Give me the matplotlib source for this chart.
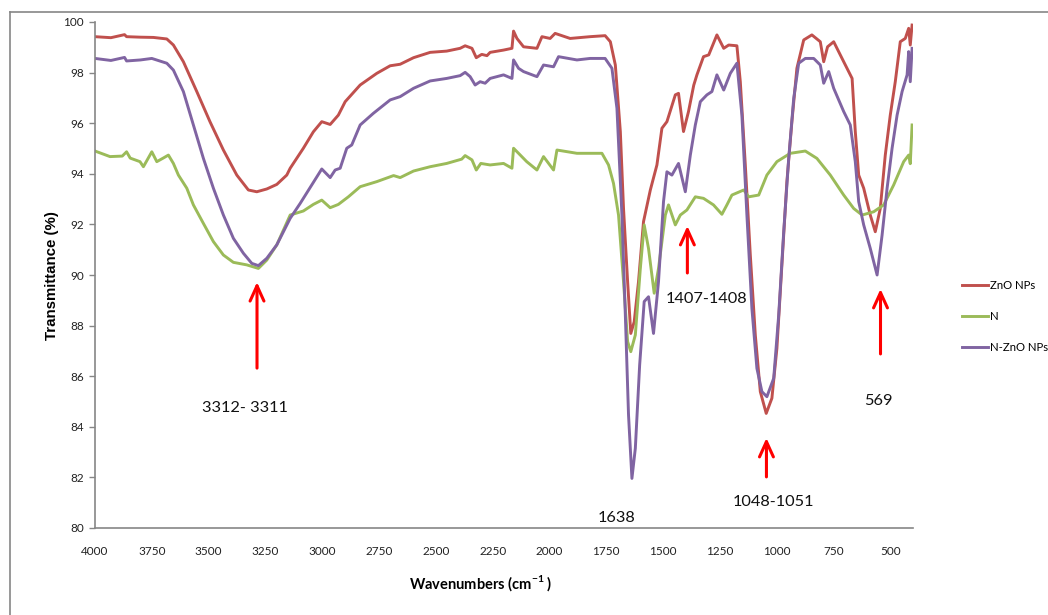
import matplotlib
matplotlib.use("Agg")
import matplotlib.pyplot as plt
from matplotlib.lines import Line2D

plt.rcParams['font.family'] = ['Lato', 'DejaVu Sans']
plt.rcParams['mathtext.fontset'] = 'custom'
plt.rcParams['mathtext.rm'] = 'Lato:bold'

# wavenumber (cm-1) / transmittance (%)
zno_x = [4000, 3930, 3870, 3861, 3800, 3743, 3684, 3655, 3611, 3552, 3494, 3435, 3376, 3325,
         3288, 3244, 3200, 3156, 3141, 3083, 3039, 3002, 2965, 2929, 2899, 2833, 2760, 2701,
         2657, 2598, 2525, 2452, 2393, 2371, 2341, 2322, 2298, 2275, 2261, 2202, 2165, 2158,
         2143, 2114, 2055, 2033, 1997, 1975, 1909, 1821, 1755, 1732, 1710, 1688, 1674, 1656,
         1642, 1627, 1608, 1586, 1556, 1527, 1505, 1483, 1446, 1432, 1410, 1388, 1365, 1351,
         1322, 1299, 1263, 1233, 1211, 1175, 1160, 1138, 1116, 1094, 1072, 1046, 1021, 999,
         977, 955, 933, 911, 881, 845, 808, 793, 776, 749, 705, 668, 654, 639, 617, 588, 566,
         544, 522, 500, 478, 456, 434, 419, 412, 404]
zno_y = [99.42, 99.38, 99.50, 99.42, 99.40, 99.39, 99.33, 99.09, 98.43, 97.25, 96.06, 94.94,
         93.95, 93.36, 93.29, 93.40, 93.58, 93.95, 94.22, 95.01, 95.66, 96.06, 95.95, 96.32,
         96.85, 97.51, 97.97, 98.27, 98.33, 98.59, 98.80, 98.85, 98.96, 99.06, 98.96, 98.59,
         98.72, 98.67, 98.80, 98.89, 98.96, 99.64, 99.35, 99.02, 98.96, 99.42, 99.35, 99.55,
         99.35, 99.42, 99.46, 99.22, 98.30, 95.67, 92.63, 89.74, 87.69, 88.15, 89.74, 92.11,
         93.36, 94.35, 95.80, 96.06, 97.12, 97.18, 95.67, 96.46, 97.50, 97.91, 98.63, 98.70,
         99.49, 98.96, 99.09, 99.06, 97.64, 94.35, 90.79, 87.63, 85.39, 84.53, 85.13, 87.10,
         90.40, 93.69, 96.06, 98.17, 99.29, 99.49, 99.22, 98.43, 99.02, 99.22, 98.43, 97.77,
         95.67, 93.95, 93.43, 92.37, 91.71, 92.63, 94.74, 96.32, 97.64, 99.22, 99.35, 99.75,
         99.09, 99.88]

n_x = [4000, 3934, 3880, 3861, 3845, 3802, 3787, 3750, 3728, 3700, 3677, 3655, 3633, 3596,
       3567, 3523, 3479, 3435, 3391, 3332, 3281, 3244, 3200, 3141, 3083, 3039, 3002, 2965,
       2929, 2885, 2833, 2760, 2686, 2657, 2598, 2525, 2452, 2386, 2371, 2341, 2322, 2302,
       2275, 2261, 2202, 2165, 2158, 2136, 2100, 2055, 2026, 1982, 1967, 1879, 1769, 1740,
       1718, 1696, 1674, 1656, 1642, 1622, 1600, 1583, 1564, 1539, 1520, 1490, 1476, 1446,
       1424, 1395, 1358, 1322, 1278, 1241, 1219, 1197, 1145, 1123, 1079, 1043, 999, 940, 874,
       823, 764, 705, 661, 624, 573, 529, 485, 441, 419, 412, 404]
n_y = [94.90, 94.68, 94.70, 94.87, 94.62, 94.48, 94.28, 94.87, 94.48, 94.62, 94.74, 94.41,
       93.95, 93.43, 92.77, 92.04, 91.32, 90.79, 90.50, 90.40, 90.26, 90.59, 91.19, 92.37,
       92.53, 92.79, 92.96, 92.66, 92.79, 93.09, 93.49, 93.69, 93.93, 93.85, 94.11, 94.28,
       94.41, 94.58, 94.72, 94.55, 94.15, 94.41, 94.37, 94.35, 94.41, 94.22, 95.01, 94.81,
       94.48, 94.15, 94.68, 94.15, 94.94, 94.81, 94.81, 94.35, 93.62, 92.37, 89.74, 87.37,
       86.97, 87.63, 90.26, 91.98, 91.05, 89.28, 90.26, 92.37, 92.77, 91.98, 92.37, 92.57,
       93.09, 93.03, 92.77, 92.40, 92.77, 93.16, 93.36, 93.09, 93.16, 93.95, 94.48, 94.81,
       94.90, 94.61, 93.95, 93.16, 92.63, 92.37, 92.50, 92.77, 93.56, 94.48, 94.74, 94.40,
       95.93]

nzno_x = [4000, 3930, 3870, 3861, 3800, 3750, 3684, 3655, 3611, 3567, 3523, 3479, 3435, 3391,
          3347, 3310, 3281, 3244, 3200, 3141, 3097, 3046, 3002, 2965, 2943, 2921, 2892, 2870,
          2833, 2775, 2701, 2657, 2598, 2525, 2452, 2393, 2371, 2349, 2327, 2305, 2283, 2261,
          2202, 2165, 2158, 2136, 2114, 2055, 2026, 1982, 1960, 1879, 1821, 1755, 1725, 1703,
          1681, 1666, 1652, 1637, 1622, 1603, 1583, 1564, 1542, 1520, 1498, 1483, 1461, 1432,
          1402, 1380, 1358, 1336, 1307, 1285, 1263, 1233, 1204, 1175, 1153, 1131, 1109, 1087,
          1065, 1043, 1013, 991, 969, 947, 925, 903, 874, 837, 808, 793, 771, 749, 705, 676, 654,
          639, 617, 588, 558, 536, 514, 492, 470, 448, 426, 419, 412, 404]
nzno_y = [98.56, 98.48, 98.60, 98.46, 98.50, 98.56, 98.37, 98.10, 97.25, 95.93, 94.61, 93.43,
          92.37, 91.45, 90.86, 90.46, 90.37, 90.66, 91.19, 92.24, 92.83, 93.56, 94.19, 93.85,
          94.15, 94.22, 95.01, 95.14, 95.93, 96.39, 96.92, 97.05, 97.38, 97.67, 97.77, 97.88,
          98.01, 97.84, 97.51, 97.64, 97.58, 97.77, 97.91, 97.77, 98.50, 98.17, 98.04, 97.84,
          98.30, 98.23, 98.63, 98.50, 98.56, 98.56, 98.17, 96.59, 92.37, 88.42, 84.47, 81.96,
          83.15, 86.44, 88.95, 89.14, 87.69, 89.74, 92.90, 94.08, 93.95, 94.41, 93.29, 94.74,
          95.93, 96.85, 97.12, 97.25, 97.91, 97.31, 97.97, 98.37, 96.32, 92.37, 88.68, 86.31,
          85.39, 85.19, 85.92, 88.42, 91.71, 94.61, 96.98, 98.37, 98.56, 98.56, 98.30, 97.58,
          98.04, 97.38, 96.46, 95.93, 94.48, 92.90, 91.98, 91.05, 90.00, 91.58, 93.43, 95.01,
          96.32, 97.25, 97.91, 98.83, 97.64, 98.96]

series_names = ['ZnO NPs', 'N', 'N-ZnO NPs']
series_colors = ['#C0504D', '#9BBB59', '#8064A2']

x_ticks = [4000, 3750, 3500, 3250, 3000, 2750, 2500, 2250, 2000, 1750, 1500, 1250, 1000, 750, 500]
y_ticks = [80, 82, 84, 86, 88, 90, 92, 94, 96, 98, 100]

# peak labels: (text, text x, text y, arrow x, arrow tail y, arrow head y)
peak_labels = [
    ('3312- 3311', 3340, 84.74, 3287, 86.32, 89.72),
    ('1638', 1706, 80.40, None, None, None),
    ('1407-1408', 1310, 89.05, 1393, 90.08, 91.94),
    ('1048-1051', 1015, 81.03, 1045, 82.02, 83.56),
    ('569', 553, 85.02, 543, 86.88, 89.45),
]

W, H = 1048, 615
fig = plt.figure(figsize=(W / 100, H / 100), dpi=100)
ax = fig.add_axes([95 / W, 1 - 528 / H, (913 - 95) / W, (528 - 22) / H])

for xs, ys, name, c in zip([zno_x, n_x, nzno_x], [zno_y, n_y, nzno_y], series_names, series_colors):
    ax.plot(xs, ys, color=c, lw=2.1, label=name, solid_joinstyle='round')

ax.set_xlim(4000, 400)
ax.set_ylim(80, 100)
ax.set_xticks(x_ticks)
ax.set_yticks(y_ticks)
ax.tick_params(axis='x', length=0, pad=13, labelsize=8.5, labelcolor='#222222')
ax.tick_params(axis='y', length=4, width=1, color='#868686', pad=4, labelsize=8.5,
               labelcolor='#222222')
for s in ['top', 'right']:
    ax.spines[s].set_visible(False)
for s in ['left', 'bottom']:
    ax.spines[s].set_color('#868686')
    ax.spines[s].set_linewidth(1.2)

fig.text(52 / W, 1 - 276 / H, 'Transmittance (%)', rotation=90, ha='center', va='center',
         fontsize=10.8, fontweight='bold', family=['Liberation Sans', 'DejaVu Sans'])
fig.text(481 / W, 1 - 583 / H, 'Wavenumbers (cm$^{\\mathrm{-1}}$ )', ha='center', va='center',
         fontsize=10.5, fontweight='bold')

for txt, tx, ty, axx, ay0, ay1 in peak_labels:
    ax.text(tx, ty, txt, ha='center', va='center', fontsize=11.8, color='#111111')
    if axx is not None:
        ax.annotate('', xy=(axx, ay1), xytext=(axx, ay0),
                    arrowprops=dict(arrowstyle='->,head_length=0.55,head_width=0.25',
                                    color='#FF0000', lw=2.2, mutation_scale=20,
                                    shrinkA=0, shrinkB=0))

ax.legend(loc='upper left', bbox_to_anchor=(962 / W, 1 - 280 / H), bbox_transform=fig.transFigure,
          frameon=False, fontsize=8.2, handlelength=2.3, handletextpad=0.15,
          labelspacing=1.75, borderpad=0, borderaxespad=0)

# outer chart border
fig.add_artist(Line2D([10 / W, 1], [1 - 12 / H, 1 - 12 / H], color='#868686', lw=1.2))
fig.add_artist(Line2D([10 / W, 10 / W], [0, 1 - 12 / H], color='#868686', lw=1.2))

fig.savefig('out.png', dpi=100)
